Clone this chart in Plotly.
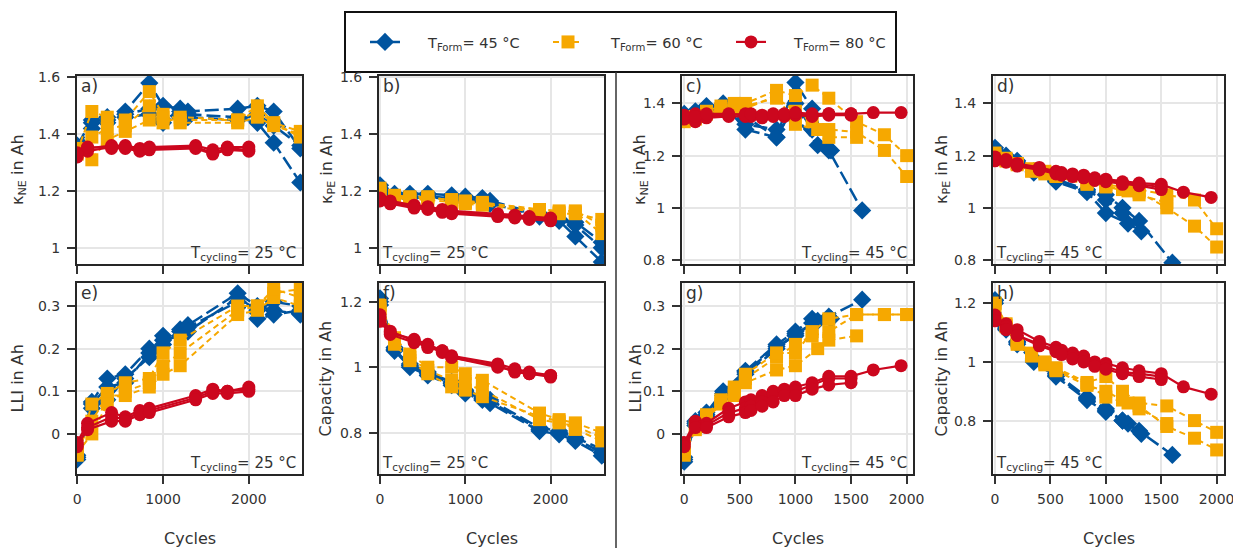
import plotly.graph_objects as go

W, H = 1233, 548

# ---------------- DATA ----------------
# Cycling at 25 °C
c25_f45_cycles = [0, 170, 350, 560, 840, 1000, 1200, 1290, 1870, 2100, 2290, 2600]
c25_f45_kne = [[1.35, 1.44, 1.46, 1.48, 1.58, 1.50, 1.49, 1.48, 1.49, 1.50, 1.48, 1.35],
               [1.34, 1.42, 1.45, 1.47, 1.49, 1.45, 1.48, 1.47, 1.46, 1.44, 1.37, 1.23],
               [1.36, 1.45, 1.44, 1.46, 1.47, 1.44, 1.47, 1.46, 1.45, 1.47, 1.43, 1.36]]
c25_f45_kpe = [[1.22, 1.19, 1.19, 1.19, 1.185, 1.18, 1.175, 1.165, 1.12, 1.10, 1.09, 1.02],
               [1.21, 1.18, 1.18, 1.18, 1.175, 1.17, 1.17, 1.16, 1.11, 1.095, 1.04, 0.95],
               [1.20, 1.18, 1.175, 1.18, 1.17, 1.165, 1.165, 1.155, 1.115, 1.10, 1.08, 1.00]]
c25_f45_lli = [[-0.06, 0.075, 0.13, 0.14, 0.20, 0.23, 0.245, 0.255, 0.33, 0.30, 0.29, 0.28],
               [-0.05, 0.06, 0.08, 0.13, 0.18, 0.21, 0.24, 0.25, 0.31, 0.27, 0.28, 0.29],
               [-0.055, 0.07, 0.11, 0.12, 0.19, 0.22, 0.23, 0.24, 0.32, 0.29, 0.31, 0.30]]
c25_f45_cap = [[1.20, 1.055, 1.005, 0.98, 0.95, 0.925, 0.905, 0.895, 0.81, 0.80, 0.78, 0.74],
               [1.21, 1.05, 1.00, 0.975, 0.945, 0.92, 0.90, 0.89, 0.805, 0.795, 0.775, 0.73],
               [1.19, 1.06, 1.01, 0.985, 0.955, 0.93, 0.91, 0.90, 0.815, 0.805, 0.785, 0.75]]

c25_f60_cycles = [0, 170, 350, 560, 840, 1000, 1200, 1870, 2100, 2290, 2600]
c25_f60_kne = [[1.34, 1.48, 1.46, 1.45, 1.55, 1.47, 1.45, 1.45, 1.50, 1.44, 1.41],
               [1.33, 1.39, 1.42, 1.43, 1.50, 1.46, 1.44, 1.44, 1.46, 1.43, 1.40],
               [1.35, 1.31, 1.38, 1.41, 1.45, 1.44, 1.46, 1.45, 1.48, 1.44, 1.39]]
c25_f60_kpe = [[1.20, 1.18, 1.175, 1.175, 1.17, 1.165, 1.16, 1.135, 1.13, 1.13, 1.08],
               [1.19, 1.175, 1.17, 1.17, 1.16, 1.16, 1.155, 1.13, 1.125, 1.125, 1.05],
               [1.21, 1.185, 1.18, 1.18, 1.165, 1.155, 1.15, 1.125, 1.12, 1.12, 1.10]]
c25_f60_lli = [[-0.05, 0.07, 0.095, 0.12, 0.13, 0.19, 0.22, 0.30, 0.30, 0.33, 0.34],
               [-0.04, 0.03, 0.09, 0.09, 0.11, 0.14, 0.16, 0.28, 0.29, 0.32, 0.30],
               [-0.045, 0.00, 0.07, 0.10, 0.12, 0.16, 0.19, 0.29, 0.30, 0.34, 0.32]]
c25_f60_cap = [[1.19, 1.09, 1.04, 1.00, 1.00, 0.98, 0.96, 0.86, 0.84, 0.83, 0.80],
               [1.18, 1.08, 1.03, 0.99, 0.96, 0.95, 0.93, 0.84, 0.83, 0.82, 0.785],
               [1.17, 1.07, 1.02, 0.98, 0.94, 0.93, 0.91, 0.85, 0.835, 0.81, 0.775]]

c25_f80_cycles = [0, 120, 400, 560, 730, 840, 1380, 1580, 1750, 2000]
c25_f80_kne = [[1.33, 1.35, 1.36, 1.36, 1.35, 1.355, 1.36, 1.345, 1.355, 1.355],
               [1.32, 1.34, 1.355, 1.355, 1.345, 1.35, 1.355, 1.335, 1.35, 1.345],
               [1.335, 1.355, 1.35, 1.35, 1.34, 1.345, 1.35, 1.33, 1.345, 1.34]]
c25_f80_kpe = [[1.175, 1.165, 1.15, 1.145, 1.135, 1.13, 1.12, 1.115, 1.11, 1.105],
               [1.17, 1.16, 1.145, 1.14, 1.13, 1.125, 1.115, 1.11, 1.105, 1.10],
               [1.165, 1.155, 1.14, 1.135, 1.125, 1.12, 1.11, 1.105, 1.10, 1.095]]
c25_f80_lli = [[-0.02, 0.025, 0.05, 0.04, 0.055, 0.06, 0.09, 0.105, 0.10, 0.11],
               [-0.03, 0.015, 0.04, 0.035, 0.05, 0.055, 0.085, 0.10, 0.10, 0.105],
               [-0.025, 0.01, 0.03, 0.03, 0.045, 0.05, 0.08, 0.095, 0.095, 0.10]]
c25_f80_cap = [[1.15, 1.105, 1.085, 1.07, 1.05, 1.035, 1.01, 0.995, 0.985, 0.975],
               [1.14, 1.10, 1.075, 1.065, 1.045, 1.03, 1.00, 0.99, 0.98, 0.97],
               [1.16, 1.11, 1.08, 1.06, 1.05, 1.03, 1.005, 0.985, 0.98, 0.975]]

# Cycling at 45 °C
c45_f45_cycles = [[0, 100, 200, 350, 550, 830, 1000, 1150, 1300, 1600],
                  [0, 100, 200, 350, 550, 830, 1000, 1200, 1320],
                  [0, 100, 200, 350, 550, 830, 1000, 1150]]
c45_f45_kne = [[1.35, 1.36, 1.38, 1.40, 1.30, 1.27, 1.48, 1.38, 1.22, 0.99],
               [1.34, 1.35, 1.37, 1.38, 1.32, 1.30, 1.35, 1.24, 1.22],
               [1.36, 1.37, 1.39, 1.39, 1.35, 1.27, 1.40, 1.30]]
c45_f45_kpe = [[1.23, 1.20, 1.18, 1.14, 1.11, 1.07, 1.05, 1.00, 0.95, 0.79],
               [1.22, 1.19, 1.17, 1.135, 1.10, 1.06, 0.98, 0.94, 0.91],
               [1.21, 1.19, 1.175, 1.14, 1.105, 1.065, 1.03, 0.98]]
c45_f45_lli = [[-0.065, 0.03, 0.05, 0.10, 0.148, 0.21, 0.24, 0.27, 0.275, 0.315],
               [-0.06, 0.025, 0.045, 0.095, 0.14, 0.20, 0.235, 0.265, 0.27],
               [-0.055, 0.02, 0.04, 0.09, 0.145, 0.205, 0.23, 0.26]]
c45_f45_cap = [[1.21, 1.12, 1.07, 1.005, 0.955, 0.875, 0.835, 0.80, 0.765, 0.683],
               [1.20, 1.11, 1.06, 1.00, 0.95, 0.87, 0.83, 0.79, 0.755],
               [1.21, 1.115, 1.065, 1.01, 0.96, 0.88, 0.84, 0.80]]

c45_f60_cycles = [[0, 100, 200, 330, 450, 550, 830, 1000, 1150, 1300, 1550, 1800, 2000],
                  [0, 100, 200, 330, 450, 550, 830, 1000, 1150, 1300, 1550, 1800, 2000],
                  [0, 100, 200, 330, 450, 550, 830, 1000, 1200, 1300, 1550]]
c45_f60_kne = [[1.34, 1.35, 1.37, 1.39, 1.40, 1.40, 1.45, 1.43, 1.47, 1.42, 1.33, 1.28, 1.20],
               [1.33, 1.34, 1.36, 1.38, 1.38, 1.39, 1.42, 1.37, 1.33, 1.30, 1.29, 1.22, 1.12],
               [1.34, 1.35, 1.36, 1.37, 1.39, 1.38, 1.43, 1.32, 1.30, 1.27, 1.27]]
c45_f60_kpe = [[1.20, 1.18, 1.17, 1.15, 1.14, 1.13, 1.10, 1.09, 1.08, 1.07, 1.05, 1.03, 0.92],
               [1.21, 1.19, 1.17, 1.145, 1.135, 1.125, 1.095, 1.085, 1.07, 1.06, 1.00, 0.93, 0.85],
               [1.19, 1.18, 1.165, 1.14, 1.13, 1.12, 1.09, 1.08, 1.065, 1.05, 1.02]]
c45_f60_lli = [[-0.05, 0.01, 0.045, 0.08, 0.11, 0.13, 0.18, 0.21, 0.23, 0.24, 0.28, 0.28, 0.28],
               [-0.045, 0.015, 0.04, 0.075, 0.10, 0.14, 0.19, 0.19, 0.24, 0.27, 0.28, 0.28, 0.28],
               [-0.04, 0.02, 0.035, 0.07, 0.09, 0.12, 0.15, 0.16, 0.20, 0.22, 0.23]]
c45_f60_cap = [[1.20, 1.13, 1.07, 1.03, 1.00, 0.98, 0.93, 0.95, 0.90, 0.86, 0.85, 0.80, 0.76],
               [1.19, 1.12, 1.06, 1.02, 0.99, 0.97, 0.92, 0.90, 0.87, 0.85, 0.78, 0.74, 0.70],
               [1.20, 1.125, 1.065, 1.025, 0.995, 0.975, 0.925, 0.88, 0.86, 0.84, 0.79]]

c45_f80_cycles = [[0, 100, 200, 400, 550, 600, 700, 800, 900, 1000, 1150, 1300, 1500, 1700, 1950],
                  [0, 100, 200, 400, 550, 600, 700, 800, 900, 1000, 1150, 1300, 1500],
                  [0, 100, 200, 400, 550, 600, 700, 800, 900, 1000, 1150, 1300, 1500]]
c45_f80_kne = [[1.35, 1.36, 1.35, 1.355, 1.36, 1.355, 1.35, 1.355, 1.355, 1.36, 1.355, 1.36, 1.36, 1.365, 1.365],
               [1.34, 1.33, 1.345, 1.35, 1.35, 1.35, 1.345, 1.35, 1.35, 1.355, 1.35, 1.355, 1.355],
               [1.355, 1.35, 1.36, 1.36, 1.355, 1.36, 1.355, 1.36, 1.36, 1.365, 1.36, 1.36, 1.36]]
c45_f80_kpe = [[1.195, 1.185, 1.17, 1.155, 1.14, 1.135, 1.13, 1.125, 1.115, 1.11, 1.10, 1.095, 1.09, 1.06, 1.04],
               [1.19, 1.18, 1.165, 1.15, 1.135, 1.13, 1.125, 1.12, 1.11, 1.105, 1.095, 1.09, 1.08],
               [1.18, 1.175, 1.16, 1.145, 1.13, 1.125, 1.12, 1.115, 1.105, 1.10, 1.09, 1.085, 1.07]]
c45_f80_lli = [[-0.02, 0.03, 0.025, 0.06, 0.075, 0.08, 0.09, 0.10, 0.105, 0.11, 0.12, 0.135, 0.135, 0.15, 0.16],
               [-0.025, 0.02, 0.02, 0.05, 0.06, 0.065, 0.075, 0.095, 0.10, 0.10, 0.115, 0.13, 0.13],
               [-0.03, 0.015, 0.015, 0.04, 0.05, 0.055, 0.065, 0.075, 0.09, 0.09, 0.105, 0.115, 0.12]]
c45_f80_cap = [[1.15, 1.13, 1.11, 1.07, 1.05, 1.04, 1.03, 1.02, 1.00, 0.995, 0.98, 0.97, 0.96, 0.915, 0.89],
               [1.16, 1.12, 1.09, 1.06, 1.04, 1.035, 1.02, 1.01, 0.99, 0.985, 0.965, 0.96, 0.95],
               [1.14, 1.11, 1.09, 1.055, 1.035, 1.025, 1.01, 1.00, 0.985, 0.975, 0.96, 0.95, 0.94]]

NB = "\u00a0" * 5
legend_labels = [NB + "T<sub>Form</sub>= 45 °C", NB + "T<sub>Form</sub>= 60 °C", NB + "T<sub>Form</sub>= 80 °C"]
panel_letters = ["a)", "b)", "c)", "d)", "e)", "f)", "g)", "h)"]
cycling_labels = ["T<sub>cycling</sub>= 25 °C", "T<sub>cycling</sub>= 45 °C"]
y_titles = ["κ<sub>NE</sub> in Ah", "κ<sub>PE</sub> in Ah", "κ<sub>NE</sub> in Ah", "κ<sub>PE</sub> in Ah",
            "LLI in Ah", "Capacity in Ah", "LLI in Ah", "Capacity in Ah"]
x_title = "Cycles"

# ---------------- STYLE ----------------
BLUE, ORANGE, RED = "#00549F", "#F6A800", "#CC071E"
styles = [
    dict(color=BLUE, dash="14px,5px", symbol="diamond", size=14, width=2.5),
    dict(color=ORANGE, dash="6px,4px", symbol="square", size=13, width=2),
    dict(color=RED, dash="solid", symbol="circle", size=13, width=2.2),
]
FONT = "DejaVu Sans"
TXT = "#333333"

def px(x):
    return x / W

def py(y):
    return 1 - y / H

cols = [(77, 302), (379, 604), (682, 913), (993, 1224)]
rows = [(76, 264), (283, 474)]
xranges = [[-3, 2620], [-12, 2626], [-20, 2057], [-18, 2066]]
yranges = [[0.943, 1.605], [0.943, 1.605], [0.785, 1.505], [0.785, 1.505],
           [-0.094, 0.354], [0.674, 1.257], [-0.094, 0.354], [0.618, 1.269]]
ydticks = [0.2, 0.2, 0.2, 0.2, 0.1, 0.2, 0.1, 0.2]
xdticks = [1000, 1000, 500, 500]

def panels():
    out = []
    d25 = [(c25_f45_cycles, c25_f45_kne, c25_f45_kpe, c25_f45_lli, c25_f45_cap),
           (c25_f60_cycles, c25_f60_kne, c25_f60_kpe, c25_f60_lli, c25_f60_cap),
           (c25_f80_cycles, c25_f80_kne, c25_f80_kpe, c25_f80_lli, c25_f80_cap)]
    d45 = [(c45_f45_cycles, c45_f45_kne, c45_f45_kpe, c45_f45_lli, c45_f45_cap),
           (c45_f60_cycles, c45_f60_kne, c45_f60_kpe, c45_f60_lli, c45_f60_cap),
           (c45_f80_cycles, c45_f80_kne, c45_f80_kpe, c45_f80_lli, c45_f80_cap)]
    spec = [(1, d25), (2, d25), (1, d45), (2, d45), (3, d25), (4, d25), (3, d45), (4, d45)]
    for mi, ds in spec:
        groups = []
        for g in ds:
            cyc = g[0]
            vals = g[mi]
            cells = []
            for ci, v in enumerate(vals):
                x = cyc[ci] if isinstance(cyc[0], list) else cyc
                cells.append((x, v))
            groups.append(cells)
        out.append(groups)
    return out

fig = go.Figure()
layout = dict(width=W, height=H, margin=dict(l=0, r=0, t=0, b=0, autoexpand=False), autosize=False,
              paper_bgcolor="white", plot_bgcolor="white",
              font=dict(family=FONT, size=14, color=TXT), showlegend=True)

annotations = []
all_panels = panels()
for p in range(8):
    r, c = divmod(p, 4)
    ax = "" if p == 0 else str(p + 1)
    x0, x1 = cols[c]
    y0, y1 = rows[r]
    common = dict(ticks="outside", ticklen=8, tickwidth=1.5, tickcolor="#333333",
                  showline=True, linecolor="#262626", linewidth=2, mirror=True,
                  showgrid=True, gridcolor="#e6e6e6", gridwidth=1.5, zeroline=False,
                  automargin=False, ticklabeloverflow="allow",
                  tickfont=dict(size=14, color=TXT, family=FONT))
    layout["xaxis" + ax] = dict(domain=[px(x0), px(x1)], range=xranges[c], anchor="y" + ax,
                                dtick=xdticks[c], tick0=0, showticklabels=(r == 1),
                                ticklabelstandoff=3, **common)
    layout["yaxis" + ax] = dict(domain=[py(y1), py(y0)], range=yranges[p], anchor="x" + ax,
                                dtick=ydticks[p], tick0=0, ticklabelstandoff=4, **common)
    for gi, cells in enumerate(all_panels[p]):
        st = styles[gi]
        for ci, (xv, yv) in enumerate(cells):
            fig.add_trace(go.Scatter(
                x=xv, y=yv, mode="lines+markers",
                xaxis="x" + ax, yaxis="y" + ax,
                line=dict(color=st["color"], dash=st["dash"], width=st["width"]),
                marker=dict(symbol=st["symbol"], size=st["size"], color=st["color"],
                            line=dict(width=0)),
                name=legend_labels[gi], legendgroup=str(gi),
                showlegend=(p == 0 and ci == 0)))

ytitle_x = [18, 327, 640, 942, 17, 325, 635, 941]
for p in range(8):
    r, c = divmod(p, 4)
    y0, y1 = rows[r]
    annotations.append(dict(text=y_titles[p], xref="paper", yref="paper",
                            x=px(ytitle_x[p]), y=py((y0 + y1) / 2), textangle=-90,
                            xanchor="center", yanchor="middle", showarrow=False,
                            font=dict(size=16, color=TXT, family=FONT)))
for c in range(4):
    x0, x1 = cols[c]
    annotations.append(dict(text=x_title, xref="paper", yref="paper",
                            x=px((x0 + x1) / 2), y=py(538), xanchor="center", yanchor="middle",
                            showarrow=False, font=dict(size=16, color=TXT, family=FONT)))
for p in range(8):
    r, c = divmod(p, 4)
    x0, x1 = cols[c]
    y0, y1 = rows[r]
    annotations.append(dict(text=panel_letters[p], xref="paper", yref="paper",
                            x=px(x0 + 2), y=py(y0 + 10), xanchor="left", yanchor="middle",
                            showarrow=False, font=dict(size=17, color=TXT, family=FONT)))
    temp = cycling_labels[0] if c < 2 else cycling_labels[1]
    if c in (0, 2):
        annotations.append(dict(text=temp, xref="paper", yref="paper",
                                x=px(x1 - 4), y=py(y1 - 11), xanchor="right", yanchor="middle",
                                showarrow=False, font=dict(size=15, color=TXT, family=FONT)))
    else:
        annotations.append(dict(text=temp, xref="paper", yref="paper",
                                x=px(x0 + 1), y=py(y1 - 11), xanchor="left", yanchor="middle",
                                showarrow=False, font=dict(size=15, color=TXT, family=FONT)))

layout["annotations"] = annotations
layout["shapes"] = [
    dict(type="rect", xref="paper", yref="paper", x0=px(345), x1=px(896), y0=py(72), y1=py(12),
         line=dict(color="#111111", width=2), fillcolor="white", layer="below"),
    dict(type="line", xref="paper", yref="paper", x0=px(616), x1=px(616), y0=py(72), y1=0,
         line=dict(color="#333333", width=1.5)),
]
layout["legend"] = dict(orientation="h", x=px(365), y=py(42), xanchor="left", yanchor="middle",
                        bgcolor="rgba(0,0,0,0)", borderwidth=0, entrywidth=138,
                        entrywidthmode="pixels", font=dict(size=14.5, color=TXT, family=FONT),
                        itemsizing="trace")
fig.update_layout(**layout)
fig.write_html("out.html", config={"displayModeBar": False},
               post_script="document.body.style.margin='0';")
